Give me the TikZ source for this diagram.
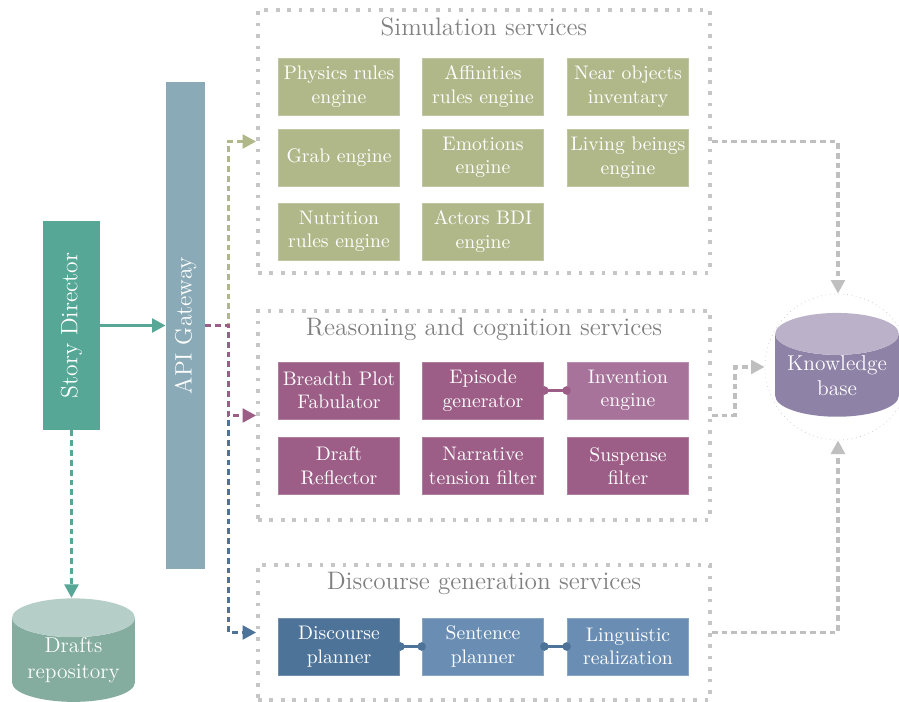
\documentclass[tikz,border=0pt]{standalone}
\usepackage{xcolor}
\usepackage{tikz}
\usetikzlibrary{shapes,arrows.meta,positioning}

\definecolor{simgreen}{HTML}{B0B88A}
\definecolor{reasonpurple}{HTML}{9C5E86}
\definecolor{inventpurple}{HTML}{A8739B}
\definecolor{discblue}{HTML}{4E7399}
\definecolor{sentblue}{HTML}{6A8EB3}
\definecolor{gatewayblue}{HTML}{89AAB6}
\definecolor{directorteal}{HTML}{56A796}
\definecolor{kbtop}{HTML}{BBB2C9}
\definecolor{kbbody}{HTML}{8E83A7}
\definecolor{draftstop}{HTML}{B5CFC8}
\definecolor{draftsbody}{HTML}{84AC9F}

\tikzset{
    service/.style={
        draw=gray!45,
        line width=2pt,
        dash pattern=on 2pt off 4.3pt,
        minimum width=248.6pt,
        inner sep=0pt
    },
    servtitle/.style={
        text=gray,
        font=\fontsize{13.9}{16}\selectfont
    },
    engine/.style={
        fill=#1,
        draw=#1!80!white,
        line width=0.5pt,
        text=white,
        minimum width=67pt,
        minimum height=31.4pt,
        inner sep=0pt,
        align=center,
        font=\fontsize{10.8}{12.9}\selectfont
    },
    pillar/.style={
        fill=#1,
        text=white,
        inner sep=0pt,
        font=\fontsize{13}{15}\selectfont
    },
    store/.style 2 args={
        cylinder,
        shape border rotate=90,
        aspect=0.42,
        cylinder uses custom fill,
        cylinder body fill=#1,
        cylinder end fill=#2,
        text=white,
        align=center,
        inner sep=0pt,
        font=\fontsize{11.8}{14}\selectfont
    },
    link/.style={
        line width=2pt,
        dash pattern=on 3.2pt off 2.2pt,
        -{Triangle[length=7.5pt,width=7.5pt]}
    },
    joint/.style={
        draw=#1,
        line width=1.8pt,
        shorten <=-2.3pt,
        shorten >=-2.3pt,
        {Circle[length=4.6pt,fill=#1]}-{Circle[length=4.6pt,fill=#1]}
    }
}

\begin{document}
\begin{tikzpicture}[x=0.55pt,y=-0.55pt]
    \useasboundingbox (0,0) rectangle (899,702);

    \node[service, minimum height=144.65pt] (sim) at (484,141.5) {};
    \node[service, minimum height=114.95pt] (reason) at (484,415.5) {};
    \node[service, minimum height=74.25pt] (disc) at (484,632.5) {};

    \node[servtitle, below=1.5pt of sim.north] (simtitle) {Simulation services};
    \node[servtitle, below=1.5pt of reason.north] (reasontitle) {Reasoning and cognition services};
    \node[servtitle, below=1.5pt of disc.north] (disctitle) {Discourse generation services};

    \node[engine=simgreen] (physics) at (339,86.5) {Physics rules\\engine};
    \node[engine=simgreen] (affinities) at (483,86.5) {Affinities\\rules engine};
    \node[engine=simgreen] (nearobjects) at (628,86.5) {Near objects\\inventary};
    \node[engine=simgreen] (grab) at (339,157.5) {Grab engine};
    \node[engine=simgreen] (emotions) at (483,157.5) {Emotions\\engine};
    \node[engine=simgreen] (livingbeings) at (628,157.5) {Living beings\\engine};
    \node[engine=simgreen] (nutrition) at (339,231.5) {Nutrition\\rules engine};
    \node[engine=simgreen] (actorsbdi) at (483,231.5) {Actors BDI\\engine};

    \node[engine=reasonpurple] (breadth) at (339,390.5) {Breadth Plot\\Fabulator};
    \node[engine=reasonpurple] (episode) at (483,390.5) {Episode\\generator};
    \node[engine=inventpurple] (invention) at (628,390.5) {Invention\\engine};
    \node[engine=reasonpurple] (draft) at (339,466) {Draft\\Reflector};
    \node[engine=reasonpurple] (tension) at (483,466) {Narrative\\tension filter};
    \node[engine=reasonpurple] (suspense) at (628,466) {Suspense\\filter};

    \node[engine=discblue] (planner) at (339,646.5) {Discourse\\planner};
    \node[engine=sentblue] (sentence) at (483,646.5) {Sentence\\planner};
    \node[engine=sentblue] (realization) at (628,646.5) {Linguistic\\realization};

    \draw[joint=reasonpurple] (episode.east) -- (invention.west);
    \draw[joint=discblue] (planner.east) -- (sentence.west);
    \draw[joint=discblue] (sentence.east) -- (realization.west);

    \node[pillar=directorteal, minimum width=31.35pt, minimum height=115pt] (director) at (71.5,325.5) {\rotatebox{90}{Story Director}};
    \node[pillar=gatewayblue, minimum width=21.45pt, minimum height=268pt] (gateway) at (185.5,325.5) {\rotatebox{90}{API Gateway}};

    \node[store={draftsbody}{draftstop}, minimum width=67.6pt, minimum height=55pt] (drafts) at (73.5,660) {Drafts\\repository};

    \node[circle, draw=gray!40, dotted, line width=0.4pt, minimum size=80.3pt] (kbring) at (838,367) {};
    \node[store={kbbody}{kbtop}, minimum width=68pt, minimum height=57pt] (kb) at (837,375.5) {Knowledge\\base};

    \draw[
        line width=2pt,
        directorteal,
        -{Triangle[length=7.5pt,width=7.5pt]}
    ] (director) -- (gateway);
    \draw[link, directorteal] (director.south) -- (director.south |- drafts.north);

    \draw[link, simgreen] (gateway.east) -- ++(23,0) |- (sim.west);
    \draw[link, discblue] (gateway.east) -- ++(23,0) |- (disc.west);
    \draw[link, reasonpurple] (gateway.east) -- ++(23,0) |- (reason.west);

    \draw[link, gray!50] (sim.east) -| (kbring.north);
    \draw[link, gray!50] (reason.east) -- ++(23,0) |- (kbring.west);
    \draw[link, gray!50] (disc.east) -| (kbring.south);
\end{tikzpicture}
\end{document}
